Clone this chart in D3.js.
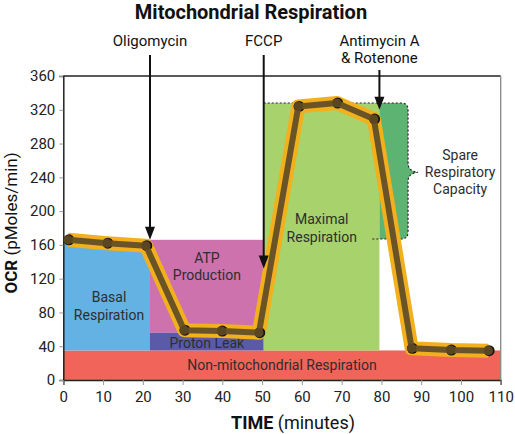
<!DOCTYPE html>
<html><head><meta charset="utf-8">
<script src="https://cdn.jsdelivr.net/npm/d3@7/dist/d3.min.js"></script>
<style>body{margin:0;background:#fff}svg{display:block;font-family:Roboto,"DejaVu Sans",sans-serif}</style>
</head><body><svg id="c" width="515" height="434"></svg>
<script>
// ---- data ----
const times = [1.2, 11, 20.8, 30.4, 39.8, 49.2, 59.1, 68.8, 78.1, 87.6, 97.4, 106.9];
const ocr   = [166, 162, 159, 59, 58, 56, 324, 328, 309, 37.5, 35.5, 34.7];
const xTicks = [0,10,20,30,40,50,60,70,80,90,100,110];
const yTicks = [0,40,80,120,160,200,240,280,320,360];
const regionNames = [["Non-mitochondrial Respiration"],["Basal","Respiration"],["ATP","Production"],["Proton Leak"],["Maximal","Respiration"]];
const regionX0 = [0, 0, 21.8, 21.8, 50.4];
const regionX1 = [110, 21.8, 50.4, 50.4, 79.5];
const regionY0 = [0, 35, 56, 35, 35];
const regionY1 = [35, 166, 166, 56, 328];
const regionColors = ["#f0645a","#64b1e3","#cd72ad","#5a5aa8","#a8d26c"];
const spareLabel = ["Spare","Respiratory","Capacity"];
const spareX = [79.5, 86.7, 89.2];   // left, right edge, brace tip
const spareY = [167, 328, 246];      // bottom, top, brace tip
const injections = ["Oligomycin","FCCP","Antimycin A|& Rotenone"];
const injectionTimes = [21.8, 50.4, 79.5];
const injectionTipOCR = [166, 132, 320];

// ---- scales ----
const svg = d3.select("#c");
const x = d3.scaleLinear().domain([0,110]).range([63.3,500.7]);
const y = d3.scaleLinear().domain([0,360]).range([380,76]);

// regions
const regs = d3.range(regionNames.length);
svg.append("g").selectAll("rect").data(regs).join("rect")
  .attr("x", i => x(regionX0[i])).attr("y", i => y(regionY1[i]))
  .attr("width", i => x(regionX1[i]) - x(regionX0[i]))
  .attr("height", i => y(regionY0[i]) - y(regionY1[i]))
  .attr("fill", i => regionColors[i]);

// spare capacity shape
const xs = x(spareX[1]), tipX = x(spareX[2]), yTop = y(spareY[1]), yBot = y(spareY[0]), yMid = y(spareY[2]), r = 7;
const braceRight = `H${xs-r} Q${xs},${yTop} ${xs},${yTop+r} V${yMid-9} Q${xs},${yMid-1} ${tipX},${yMid} Q${xs},${yMid+1} ${xs},${yMid+9} V${yBot-r} Q${xs},${yBot} ${xs-r},${yBot}`;
svg.append("path").attr("d", `M${x(spareX[0])},${yTop} ${braceRight} H${x(spareX[0])} Z`).attr("fill","#5db472");
svg.append("path").attr("d", `M${x(regionX0[4])},${yTop} ${braceRight} H${x(77.3)}`)
  .attr("fill","none").attr("stroke","#222").attr("stroke-width",1.2).attr("stroke-dasharray","2,2");

// region labels
const labelPos = [[55,370],[21.8/2+0.6,302],[36.1,262.5],[36.1,348],[65,224]];
regs.forEach(i => {
  const t = svg.append("text").attr("text-anchor","middle").attr("fill","#2e2e2e").style("font-size","14px");
  regionNames[i].forEach((s,k) => t.append("tspan").attr("x", x(labelPos[i][0])).attr("y", labelPos[i][1] + k*17.5).text(s));
});
const st = svg.append("text").attr("text-anchor","middle").attr("fill","#2e2e2e").style("font-size","14px");
spareLabel.forEach((s,k) => st.append("tspan").attr("x", x(99.8)).attr("y", 160 + k*17).text(s));

// axes
const gy = svg.append("g").attr("transform",`translate(${x(0)},0)`).call(d3.axisLeft(y).tickValues(yTicks).tickSize(4).tickPadding(4));
const gx = svg.append("g").attr("transform",`translate(0,${y(0)})`).call(d3.axisBottom(x).tickValues(xTicks).tickSize(5).tickPadding(6));
[gx, gy].forEach(g => {
  g.select(".domain").attr("stroke","#222").attr("stroke-width",1.5);
  g.selectAll(".tick line").attr("stroke","#999");
  g.selectAll(".tick text").attr("fill","#222").style("font-size","15px").style("font-family","Roboto");
});
// frame top and right
svg.append("line").attr("x1",x(0)).attr("x2",x(110)).attr("y1",y(360)).attr("y2",y(360)).attr("stroke","#222").attr("stroke-width",1.3);
svg.append("line").attr("x1",x(110)).attr("x2",x(110)).attr("y1",y(360)).attr("y2",y(0)).attr("stroke","#888").attr("stroke-width",1.3);

// data line
const line = d3.line().x((d,i) => x(times[i])).y((d,i) => y(ocr[i]));
svg.append("path").datum(ocr).attr("d", line).attr("fill","none").attr("stroke","#f1b01c")
  .attr("stroke-width",14).attr("stroke-linejoin","round").attr("stroke-linecap","butt");
svg.append("g").selectAll("circle").data(ocr).join("circle")
  .attr("cx",(d,i)=>x(times[i])+0.8).attr("cy",(d,i)=>y(ocr[i])).attr("r",5.5).attr("fill","#161310");
svg.append("path").datum(ocr).attr("d", line).attr("fill","none").attr("stroke","#6a5326")
  .attr("stroke-width",6).attr("stroke-linejoin","round");
svg.append("g").selectAll("circle").data(ocr).join("circle")
  .attr("cx",(d,i)=>x(times[i])).attr("cy",(d,i)=>y(ocr[i])).attr("r",4.6).attr("fill","#5a4622");

// injection arrows & labels
injections.forEach((lab,i) => {
  const xp = x(injectionTimes[i]);
  const parts = lab.split("|");
  const t = svg.append("text").attr("text-anchor","middle").attr("fill","#111").style("font-size","15px");
  parts.forEach((s,k) => t.append("tspan").attr("x", xp).attr("y", 46 + k*17).text(s));
  const y0 = parts.length > 1 ? 70 : 55;
  const tip = y(injectionTipOCR[i]);
  svg.append("line").attr("x1",xp).attr("x2",xp).attr("y1",y0).attr("y2",tip-8).attr("stroke","#111").attr("stroke-width",2);
  svg.append("path").attr("d",`M${xp-5},${tip-13} L${xp+5},${tip-13} L${xp},${tip} Z`).attr("fill","#111");
});

// title
svg.append("text").attr("x",251).attr("y",19).attr("text-anchor","middle").attr("fill","#111")
  .style("font-size","20px").style("font-weight","bold").text("Mitochondrial Respiration");
// axis titles
const xt = svg.append("text").attr("x",293).attr("y",429).attr("text-anchor","middle").attr("fill","#111").style("font-size","18px");
xt.append("tspan").style("font-weight","bold").text("TIME");
xt.append("tspan").text(" (minutes)");
const yt = svg.append("text").attr("transform","translate(17,223) rotate(-90)").attr("text-anchor","middle").attr("fill","#111").style("font-size","17px");
yt.append("tspan").style("font-weight","bold").text("OCR");
yt.append("tspan").text(" (pMoles/min)");
</script></body></html>
